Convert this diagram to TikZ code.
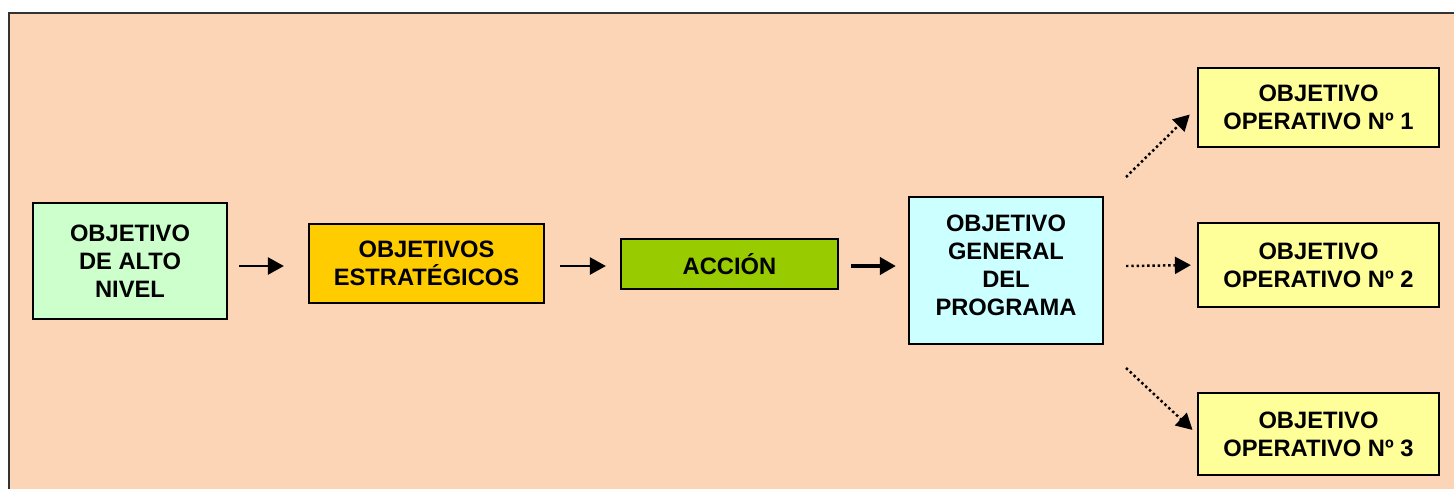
\documentclass[tikz,border=0pt]{standalone}
\usepackage{fontspec}
\setmainfont{Liberation Sans}
\usetikzlibrary{arrows.meta}
\definecolor{fondo}{RGB}{251,213,181}
\definecolor{verdeclaro}{RGB}{204,255,204}
\definecolor{oro}{RGB}{255,204,0}
\definecolor{verdeaccion}{RGB}{153,204,0}
\definecolor{celeste}{RGB}{204,255,255}
\definecolor{amarillo}{RGB}{255,255,153}
\begin{document}
\begin{tikzpicture}[x=0.02cm,y=-0.02cm,
	caja/.style={draw, line width=1.3pt, align=center, inner sep=0pt, font=\bfseries\fontsize{13.5}{16}\selectfont},
	flecha/.style={-{Triangle[length=0.32cm,width=0.34cm]}, line width=1.4pt},
	punteada/.style={-{Triangle[length=0.32cm,width=0.34cm]}, line width=1.4pt, dash pattern=on 1.4pt off 1.6pt}]
	\useasboundingbox (0,0) rectangle (1454,488);
	\fill[fondo] (9,13) rectangle (1480,510);
	\draw[line width=1.2pt, black!80] (9,510) -- (9,13) -- (1480,13);
	% cajas
	\node[caja, fill=verdeclaro, minimum width=3.88cm, minimum height=2.32cm] (alto) at (130,261) {OBJETIVO\\DE ALTO\\NIVEL};
	\node[caja, fill=oro, minimum width=4.7cm, minimum height=1.58cm] (estr) at (426.5,263.5) {OBJETIVOS\\ESTRATÉGICOS};
	\node[caja, fill=verdeaccion, minimum width=4.34cm, minimum height=1cm] (accion) at (729.5,264) {ACCIÓN};
	\node[caja, fill=celeste, minimum width=3.88cm, minimum height=2.94cm] (general) at (1006,270.5) {OBJETIVO\\GENERAL\\DEL\\PROGRAMA\vspace{0.2cm}};
	\node[caja, fill=amarillo, minimum width=4.82cm, minimum height=1.58cm] (op1) at (1318.5,107.5) {OBJETIVO\\OPERATIVO Nº 1};
	\node[caja, fill=amarillo, minimum width=4.82cm, minimum height=1.68cm] (op2) at (1318.5,265) {OBJETIVO\\OPERATIVO Nº 2};
	\node[caja, fill=amarillo, minimum width=4.82cm, minimum height=1.64cm] (op3) at (1318.5,434) {OBJETIVO\\OPERATIVO Nº 3};
	% flechas
	\coordinate (eje) at (0,266);
	\draw[flecha, shorten <=0.22cm, shorten >=0.48cm] (alto.east |- eje) -- (estr.west |- eje);
	\draw[flecha, shorten <=0.3cm, shorten >=0.28cm] (estr.east |- eje) -- (accion.west |- eje);
	\draw[flecha, line width=2.6pt, shorten <=0.24cm, shorten >=0.24cm] (accion.east |- eje) -- (general.west |- eje);
	\coordinate (p1) at (1126,177);
	\coordinate (p2) at (1126,266);
	\coordinate (p3) at (1126,368);
	\draw[punteada, shorten >=0.2cm] (p1) -- (op1.west);
	\draw[punteada, shorten >=0.12cm] (p2) -- (op2.west);
	\draw[punteada, shorten >=0.12cm] (p3) -- (op3.west);
\end{tikzpicture}
\end{document}
